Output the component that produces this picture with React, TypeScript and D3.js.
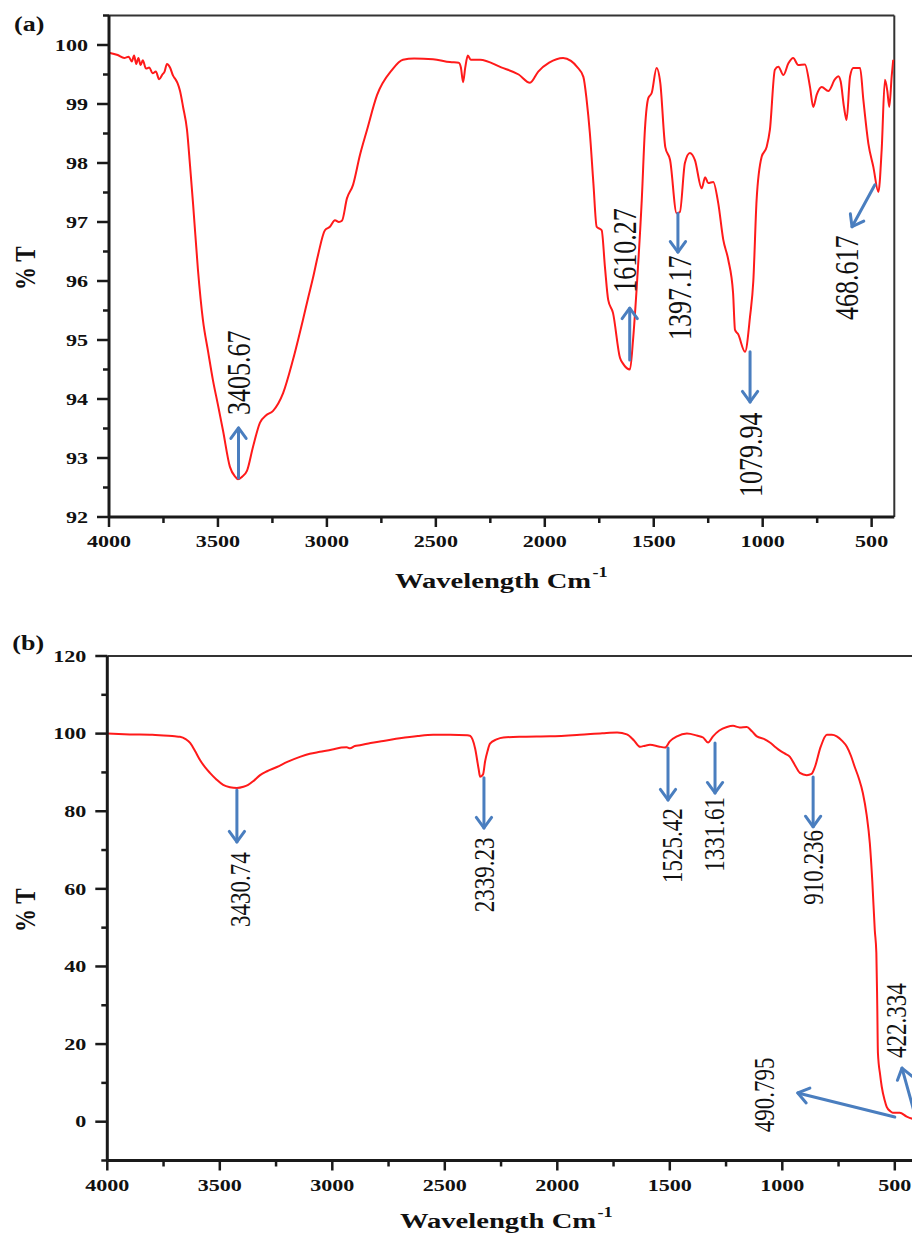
import React from 'react';
import * as d3 from 'd3';

// ---- panel (a): wavenumber (cm-1), %T ----
const spectrumA: [number, number][] = [
  [4000, 99.87], [3960, 99.83], [3930, 99.78], [3910, 99.8], [3895, 99.72], [3885, 99.82],
  [3875, 99.68], [3865, 99.78], [3855, 99.66], [3845, 99.74], [3830, 99.6], [3815, 99.62],
  [3800, 99.52], [3785, 99.55], [3770, 99.42], [3755, 99.5], [3745, 99.55], [3734, 99.68],
  [3720, 99.62], [3706, 99.48], [3695, 99.42], [3685, 99.35], [3674, 99.22], [3660, 98.95],
  [3642, 98.56], [3628, 97.95], [3614, 97.3], [3592, 96.2], [3569, 95.34], [3545, 94.8],
  [3523, 94.32], [3500, 93.9], [3477, 93.47], [3445, 92.85], [3420, 92.68], [3408, 92.64],
  [3390, 92.68], [3367, 92.78], [3339, 93.19], [3307, 93.6], [3280, 93.72], [3247, 93.8],
  [3201, 94.1], [3156, 94.66], [3110, 95.34], [3087, 95.7], [3064, 96.05], [3040, 96.45],
  [3009, 96.86], [2986, 96.92], [2963, 97.03], [2945, 97.0], [2931, 97.02], [2908, 97.4],
  [2880, 97.63], [2848, 98.14], [2816, 98.56], [2770, 99.15], [2701, 99.58], [2651, 99.75],
  [2600, 99.77], [2513, 99.76], [2435, 99.71], [2395, 99.7], [2385, 99.62], [2375, 99.37],
  [2365, 99.62], [2353, 99.82], [2340, 99.75], [2297, 99.75], [2200, 99.62], [2120, 99.5],
  [2068, 99.36], [2030, 99.55], [1980, 99.7], [1916, 99.78], [1880, 99.73], [1852, 99.63],
  [1823, 99.46], [1808, 99.07], [1793, 98.5], [1777, 97.66], [1762, 96.92], [1739, 96.86],
  [1724, 96.24], [1709, 95.68], [1687, 95.46], [1655, 94.7], [1641, 94.6], [1609, 94.5],
  [1595, 95.0], [1578, 95.9], [1555, 97.37], [1540, 98.6], [1525, 99.1], [1509, 99.19],
  [1487, 99.61], [1470, 99.36], [1447, 98.27], [1425, 98.05], [1395, 97.15], [1380, 97.17],
  [1357, 98.0], [1334, 98.17], [1311, 98.05], [1280, 97.57], [1264, 97.76], [1250, 97.66],
  [1227, 97.68], [1204, 97.32], [1181, 96.7], [1158, 96.36], [1136, 95.8], [1127, 95.17],
  [1113, 95.1], [1081, 94.8], [1058, 95.4], [1043, 96.0], [1028, 97.37], [1005, 98.1],
  [982, 98.27], [967, 98.56], [944, 99.58], [928, 99.63], [905, 99.49], [882, 99.69],
  [860, 99.78], [837, 99.66], [806, 99.67], [783, 99.29], [768, 98.95], [752, 99.16],
  [729, 99.29], [699, 99.22], [668, 99.42], [653, 99.47], [642, 99.38], [627, 98.95],
  [615, 98.73], [599, 99.47], [584, 99.61], [553, 99.61], [538, 99.07], [515, 98.33],
  [492, 97.93], [469, 97.51], [454, 98.22], [439, 99.41], [428, 99.22], [419, 98.95],
  [408, 99.47], [401, 99.75],
];

// ---- panel (b) ----
const spectrumB: [number, number][] = [
  [4000, 100], [3900, 99.8], [3800, 99.7], [3700, 99.3], [3677, 99.2], [3650, 98.5],
  [3632, 97.6], [3610, 95.5], [3588, 93.2], [3565, 91.3], [3544, 89.9], [3515, 88.2],
  [3485, 86.8], [3455, 86.2], [3424, 86.0], [3395, 86.3], [3374, 86.8], [3350, 87.8],
  [3321, 89.3], [3290, 90.3], [3246, 91.4], [3200, 92.7], [3144, 94.0], [3100, 94.8],
  [3055, 95.3], [3000, 95.9], [2960, 96.4], [2936, 96.5], [2921, 96.2], [2900, 96.8],
  [2877, 97.0], [2830, 97.6], [2773, 98.1], [2700, 98.8], [2620, 99.4], [2552, 99.7],
  [2476, 99.7], [2400, 99.6], [2387, 99.4], [2365, 96.1], [2350, 91.0], [2343, 88.9],
  [2330, 89.5], [2321, 92.8], [2310, 95.5], [2299, 97.4], [2270, 98.5], [2240, 99.0],
  [2150, 99.2], [2032, 99.3], [1900, 99.7], [1800, 100.1], [1734, 100.3], [1691, 99.8],
  [1660, 98.3], [1632, 96.6], [1610, 96.9], [1588, 97.1], [1550, 96.7], [1521, 96.4],
  [1500, 98.0], [1468, 99.3], [1424, 100.0], [1380, 99.5], [1352, 99.0], [1330, 97.7],
  [1308, 99.3], [1280, 100.8], [1246, 101.7], [1219, 102.0], [1190, 101.6], [1158, 101.7],
  [1135, 100.6], [1113, 99.3], [1080, 98.6], [1055, 97.7], [1030, 96.5], [1010, 95.6],
  [990, 94.9], [966, 94.0], [945, 92.0], [922, 89.9], [891, 89.3], [870, 89.6],
  [855, 91.4], [830, 96.5], [802, 99.7], [780, 99.7], [758, 99.3], [735, 98.2],
  [713, 96.6], [695, 94.3], [678, 91.4], [660, 88.5], [642, 84.7], [625, 79.0],
  [611, 71.8], [600, 62.0], [589, 49.4], [582, 43.5], [578, 30.0], [575, 17.7],
  [565, 12.0], [558, 9.0], [545, 5.5], [536, 3.8], [520, 2.7], [509, 2.3],
  [478, 2.3], [447, 1.3], [425, 0.8], [400, 0.6],
];

// ---- tick labels ----
const xTicks = [4000, 3500, 3000, 2500, 2000, 1500, 1000, 500];
const xMinorTicks = [3750, 3250, 2750, 2250, 1750, 1250, 750];
const yTicksA = [92, 93, 94, 95, 96, 97, 98, 99, 100];
const yMinorTicksA = [92.5, 93.5, 94.5, 95.5, 96.5, 97.5, 98.5, 99.5, 100.5];
const yTicksB = [0, 20, 40, 60, 80, 100, 120];
const yMinorTicksB = [-10, 10, 30, 50, 70, 90, 110];

// ---- peak annotations: label, arrow tail (on curve), arrow head, text anchor [wn, %T] ----
const peakLabelsA = ['3405.67', '1610.27', '1397.17', '1079.94', '468.617'];
const peakTailsA: [number, number][] = [[3405.67, 92.66], [1610.27, 94.66], [1389, 97.15], [1058, 94.8], [485, 97.63]];
const peakHeadsA: [number, number][] = [[3405.67, 93.51], [1610.27, 95.54], [1389, 96.49], [1058, 93.95], [590, 96.92]];
const peakTextA: [number, number][] = [[3403, 93.73], [1632, 95.8], [1380, 95.0], [1054, 92.34], [613, 95.34]];

const peakLabelsB = ['3430.74', '2339.23', '1525.42', '1331.61', '910.236', '490.795', '422.334'];
const peakTailsB: [number, number][] = [[3424, 85.5], [2326, 88.6], [1508, 96.3], [1299, 97.6], [863, 88.8], [500, 1.2], [397, -1]];
const peakHeadsB: [number, number][] = [[3424, 72.1], [2326, 75.7], [1508, 82.9], [1299, 84.7], [863, 76.0], [931, 7.4], [468, 13.8]];
const peakTextB: [number, number][] = [[3410, 50.2], [2326, 54.0], [1491, 61.5], [1304, 64.4], [863, 55.9], [1081, -2.7], [496, 16.4]];

const SERIF = '"Liberation Serif", "Times New Roman", serif';
const STRETCH = 1.3; // original figure is stretched horizontally
const ARROW = '#4a7ebf';
const AXIS = '#1a1a1a';

type PanelProps = {
  tag: string;
  data: [number, number][];
  left: number; right: number; top: number; bottom: number;
  xDomain: [number, number]; yDomain: [number, number];
  yTicks: number[]; yMinor: number[];
  labels: string[]; tails: [number, number][]; heads: [number, number][]; texts: [number, number][];
  labelSize: number;
  titleX: number; titleY: number; tagY: number;
};

function Arrow({ x1, y1, x2, y2 }: { x1: number; y1: number; x2: number; y2: number }) {
  const a = Math.atan2(y2 - y1, x2 - x1);
  const len = 13, spread = Math.PI / 5;
  const p1 = [x2 - len * Math.cos(a - spread), y2 - len * Math.sin(a - spread)];
  const p2 = [x2 - len * Math.cos(a + spread), y2 - len * Math.sin(a + spread)];
  return (
    <g stroke={ARROW} strokeWidth={3} fill="none" strokeLinecap="round" strokeLinejoin="round">
      <line x1={x1} y1={y1} x2={x2} y2={y2} />
      <polyline points={`${p1[0]},${p1[1]} ${x2},${y2} ${p2[0]},${p2[1]}`} />
    </g>
  );
}

function Panel(p: PanelProps) {
  const x = d3.scaleLinear().domain(p.xDomain).range([p.left, p.right]);
  const y = d3.scaleLinear().domain(p.yDomain).range([p.bottom, p.top]);
  const line = d3.line<[number, number]>()
    .x(d => x(d[0]))
    .y(d => y(d[1]))
    .curve(d3.curveMonotoneX);
  const midY = (p.top + p.bottom) / 2;

  return (
    <g>
      {/* frame */}
      <line x1={p.left} x2={p.right} y1={p.top} y2={p.top} stroke="#333" strokeWidth={2} />
      <line x1={p.right} x2={p.right} y1={p.top} y2={p.bottom} stroke="#333" strokeWidth={2} />

      {/* curve */}
      <path d={line(p.data) || ''} fill="none" stroke="#ff1a1a" strokeWidth={2} strokeLinejoin="round" />

      {/* y axis */}
      <line x1={p.left} x2={p.left} y1={p.top} y2={p.bottom} stroke={AXIS} strokeWidth={3} />
      {p.yMinor.map(v => (
        <line key={'ym' + v} x1={p.left - 6} x2={p.left} y1={y(v)} y2={y(v)} stroke={AXIS} strokeWidth={2.5} />
      ))}
      {p.yTicks.map(v => (
        <g key={'y' + v}>
          <line x1={p.left - 12} x2={p.left} y1={y(v)} y2={y(v)} stroke={AXIS} strokeWidth={2.5} />
          <text transform={`translate(${p.left - 21},${y(v) + 5.8}) scale(${STRETCH},1)`}
            textAnchor="end" fontFamily={SERIF} fontWeight="bold" fontSize={17} fill="#111">{v}</text>
        </g>
      ))}

      {/* x axis */}
      <line x1={p.left} x2={p.right} y1={p.bottom} y2={p.bottom} stroke={AXIS} strokeWidth={3} />
      {xMinorTicks.map(v => (
        <line key={'xm' + v} x1={x(v)} x2={x(v)} y1={p.bottom} y2={p.bottom + 6} stroke={AXIS} strokeWidth={2.5} />
      ))}
      {xTicks.map(v => (
        <g key={'x' + v}>
          <line x1={x(v)} x2={x(v)} y1={p.bottom} y2={p.bottom + 10} stroke={AXIS} strokeWidth={2.5} />
          <text transform={`translate(${x(v)},${p.bottom + 30}) scale(${STRETCH},1)`}
            textAnchor="middle" fontFamily={SERIF} fontWeight="bold" fontSize={17} fill="#111">{v}</text>
        </g>
      ))}

      {/* titles */}
      <text transform={`translate(25,${midY + 2}) scale(${STRETCH},1) rotate(-90)`}
        textAnchor="middle" dominantBaseline="central" fontFamily={SERIF} fontWeight="bold" fontSize={23} fill="#111">% T</text>
      <text transform={`translate(${p.titleX},${p.titleY}) scale(${STRETCH},1)`}
        fontFamily={SERIF} fontWeight="bold" fontSize={22} fill="#111">
        Wavelength Cm<tspan fontSize={14} dx={1} dy={-11}>-1</tspan>
      </text>
      <text transform={`translate(${p.left - 95},${p.tagY}) scale(${STRETCH},1)`}
        fontFamily={SERIF} fontWeight="bold" fontSize={20} fill="#111">{p.tag}</text>

      {/* peak annotations */}
      {p.labels.map((lab, i) => (
        <g key={lab}>
          <Arrow x1={x(p.tails[i][0])} y1={y(p.tails[i][1])} x2={x(p.heads[i][0])} y2={y(p.heads[i][1])} />
          <text transform={`translate(${x(p.texts[i][0])},${y(p.texts[i][1])}) scale(${STRETCH},1) rotate(-90)`}
            dominantBaseline="central" fontFamily={SERIF} fontSize={p.labelSize} fill="#111">{lab}</text>
        </g>
      ))}
    </g>
  );
}

export default function App() {
  return (
    <svg width={912} height={1235} style={{ position: 'absolute', left: 0, top: 0, background: '#fff' }}>
      <rect width={912} height={1235} fill="#fff" />
      <Panel tag="(a)" data={spectrumA}
        left={109} right={894.3} top={15.5} bottom={517}
        xDomain={[4000, 396]} yDomain={[92, 100.5]}
        yTicks={yTicksA} yMinor={yMinorTicksA}
        labels={peakLabelsA} tails={peakTailsA} heads={peakHeadsA} texts={peakTextA}
        labelSize={26} titleX={395} titleY={588} tagY={31} />
      <Panel tag="(b)" data={spectrumB}
        left={107.3} right={917.3} top={656} bottom={1160.5}
        xDomain={[4000, 400]} yDomain={[-10, 120]}
        yTicks={yTicksB} yMinor={yMinorTicksB}
        labels={peakLabelsB} tails={peakTailsB} heads={peakHeadsB} texts={peakTextB}
        labelSize={23} titleX={400} titleY={1228} tagY={650} />
    </svg>
  );
}
